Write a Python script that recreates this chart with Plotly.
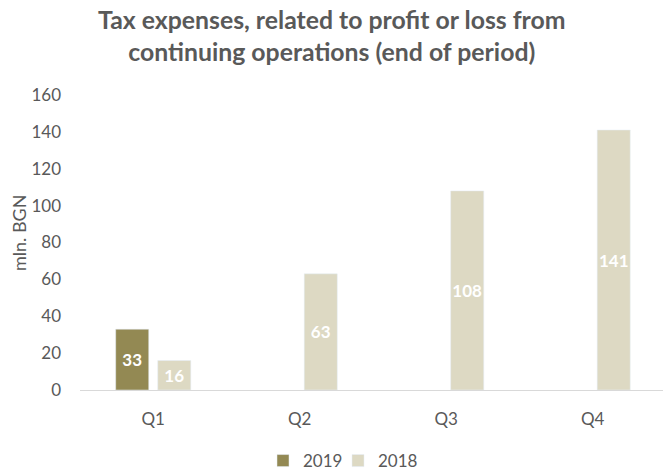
import plotly.graph_objects as go

quarters = ["Q1", "Q2", "Q3", "Q4"]
values_2019 = [33, None, None, None]
values_2018 = [16, 63, 108, 141]
y_ticks = [0, 20, 40, 60, 80, 100, 120, 140, 160]

color_2019 = "#938953"
color_2018 = "#DDD9C3"
text_gray = "#595959"
font_family = "Lato"

# plot area in pixels
FIG_W, FIG_H = 663, 471
M_LEFT, M_TOP, M_BOTTOM = 80, 95, 81
PLOT_H = FIG_H - M_TOP - M_BOTTOM
PLOT_W = FIG_W - M_LEFT


def labels(vals):
    return [f"{v:.0f}" if v is not None else "" for v in vals]


def bar(name, vals, color, legend):
    return go.Bar(
        name=name, x=quarters, y=vals, marker_color=color, legend=legend,
        text=labels(vals), textposition="inside", insidetextanchor="middle",
        textangle=0,
        textfont=dict(family=font_family, size=17, color="white", weight="bold"),
        cliponaxis=False,
    )


fig = go.Figure([bar("2019", values_2019, color_2019, "legend"),
                 bar("2018", values_2018, color_2018, "legend2")])

legend_common = dict(
    orientation="h", xref="container", yref="container",
    y=1 - 461 / FIG_H, yanchor="middle", xanchor="left",
    font=dict(size=17, color=text_gray), itemwidth=30,
    bgcolor="rgba(0,0,0,0)",
)

fig.update_layout(
    width=FIG_W, height=FIG_H,
    margin=dict(l=M_LEFT, r=0, t=M_TOP, b=M_BOTTOM, autoexpand=False),
    paper_bgcolor="white", plot_bgcolor="white",
    barmode="group", bargap=0.426, bargroupgap=0.214,
    uniformtext=dict(minsize=17, mode="show"),
    font=dict(family=font_family, size=17, color=text_gray),
    xaxis=dict(
        range=[-0.5, 3.48], showline=True, linecolor="#D9D9D9", linewidth=1,
        ticks="", showgrid=False, tickfont=dict(size=17, color=text_gray),
        ticklabelstandoff=14, automargin=False,
    ),
    yaxis=dict(
        range=[0, 160], tickvals=y_ticks, showgrid=False, zeroline=False,
        ticks="", tickfont=dict(size=17, color=text_gray),
        ticklabelstandoff=18, automargin=False,
    ),
    legend=dict(legend_common, x=263 / FIG_W),
    legend2=dict(legend_common, x=338 / FIG_W),
    showlegend=True,
)

# chart title, two centred lines above the plot
fig.add_annotation(
    text="Tax expenses, related to profit or loss from<br>continuing operations (end of period)",
    xref="paper", yref="paper",
    x=(331.5 - M_LEFT) / PLOT_W, y=1 + (M_TOP - 35) / PLOT_H,
    xanchor="center", yanchor="middle", showarrow=False,
    font=dict(family=font_family, size=24.8, color=text_gray, weight="bold"),
)

# vertical axis title
fig.add_annotation(
    text="mln. BGN", textangle=-90,
    xref="paper", yref="paper",
    x=(19 - M_LEFT) / PLOT_W, y=(390 - 233) / PLOT_H,
    xanchor="center", yanchor="middle", showarrow=False,
    font=dict(family=font_family, size=18, color=text_gray),
)

fig.write_html("out.html")
